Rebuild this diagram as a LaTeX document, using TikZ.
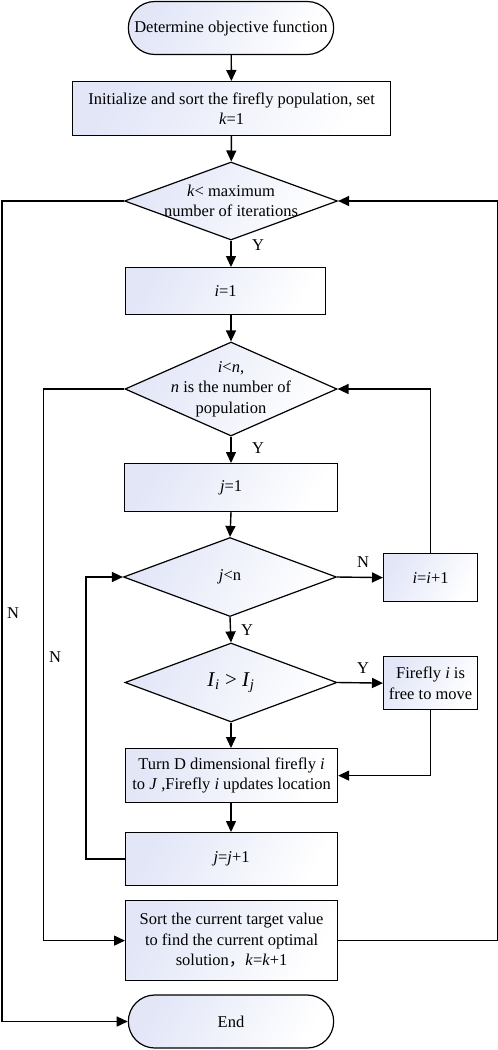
\documentclass[tikz,border=0pt]{standalone}
\usepackage{fontspec}
\setmainfont{Liberation Serif}
\newfontfamily\cjk{Noto Sans CJK SC}
\usepackage{amsmath}
\usepackage{tikz}
\usetikzlibrary{shapes.geometric,shapes.misc,arrows.meta}
\definecolor{lavande}{RGB}{226,230,247}
\tikzstyle{cadre} = [rectangle, draw=black, line width=1.2pt, top color=lavande, bottom color=white, shading angle=60, align=center, inner sep=2pt, font=\fontsize{16.5}{20.5}\selectfont]
\tikzstyle{losange} = [diamond, draw=black, line width=1.2pt, top color=lavande, bottom color=white, shading angle=60, inner sep=0pt]
\tikzstyle{arrondi} = [rounded rectangle, draw=black, line width=1.2pt, top color=lavande, bottom color=white, shading angle=60, minimum width=212pt, minimum height=53pt, font=\fontsize{16.5}{20.5}\selectfont]
\tikzstyle{texte} = [align=center, inner sep=0pt, font=\fontsize{16.5}{20.5}\selectfont]
\tikzstyle{etiquette} = [inner sep=0pt, font=\fontsize{16.5}{20.5}\selectfont]
\tikzstyle{fleche} = [-{Triangle[length=11pt,width=10pt]}, line width=1.4pt]

\begin{document}
\begin{tikzpicture}[x=1pt, y=-1pt]
                \useasboundingbox (0,0) rectangle (498,1050);

                \node [arrondi] (debut) at (231,28) {Determine objective function};
                \node [cadre, anchor=north west, minimum width=318pt, minimum height=54pt] (init) at (72,81) {Initialize and sort the firefly population, set\\ \textit{k}=1};
                \node [losange, minimum width=213pt, minimum height=78pt, label={[texte]center:{\textit{k}< maximum\\number of iterations}}] (iter) at (231,201) {};
                \node [cadre, anchor=north west, minimum width=200pt, minimum height=47pt] (ieg) at (125,267) {\textit{i}=1};
                \node [losange, minimum width=212pt, minimum height=94pt, label={[texte]center:{\textit{i}<\textit{n},\\ \textit{n} is the number of\\population}}] (inf) at (231,389) {};
                \node [cadre, anchor=north west, minimum width=213pt, minimum height=48pt] (jeg) at (124,463) {\textit{j}=1};
                \node [losange, minimum width=213pt, minimum height=79pt, label={[texte]center:{\textit{j}<n}}] (jinf) at (230,577) {};
                \node [cadre, anchor=north west, minimum width=94pt, minimum height=48pt] (iplus) at (383,553) {\textit{i}=\textit{i}+1};
                \node [losange, minimum width=212pt, minimum height=79pt, label={[texte]center:{\fontsize{21}{24}\selectfont\textit{I}$_{\textit{i}}$ > \textit{I}$_{\textit{j}}$}}] (compare) at (231,682.5) {};
                \node [cadre, anchor=north west, minimum width=94pt, minimum height=53pt] (libre) at (383,656) {Firefly \textit{i} is\\free to move};
                \node [cadre, anchor=north west, minimum width=212pt, minimum height=54pt] (maj) at (125,748) {Turn D dimensional firefly \textit{i}\\to \textit{J} ,Firefly \textit{i} updates location};
                \node [cadre, anchor=north west, minimum width=212pt, minimum height=53pt] (jplus) at (125,832) {\textit{j}=\textit{j}+1};
                \node [cadre, anchor=north west, minimum width=212pt, minimum height=80pt] (tri) at (125,900) {Sort the current target value\\to find the current optimal\\solution{\cjk ，}\textit{k}=\textit{k}+1};
                \node [arrondi] (fin) at (231,1021.5) {End};

                \node [etiquette] (oui1) at (258,245) {Y};
                \node [etiquette] (oui2) at (258,448) {Y};
                \node [etiquette] (oui3) at (247,630) {Y};
                \node [etiquette] (oui4) at (363,668) {Y};
                \node [etiquette] (non1) at (363,562) {N};
                \node [etiquette] (non2) at (13,613) {N};
                \node [etiquette] (non3) at (55,657) {N};

                \draw[fleche] (debut) -- (init);
                \draw[fleche] (init) -- (iter);
                \draw[fleche] (iter.south) -- (iter.south |- ieg.north);
                \draw[fleche] (iter.south |- ieg.south) -- (inf.north);
                \draw[fleche] (inf.south) -- (inf.south |- jeg.north);
                \draw[fleche] (inf.south |- jeg.south) -- (jinf.north);
                \draw[fleche] (jinf.south) -- (compare.north);
                \draw[fleche] (compare.south) -- (compare.south |- maj.north);
                \draw[fleche] (compare.south |- maj.south) -- (compare.south |- jplus.north);
                \draw[fleche] (jinf.east) -- (iplus.west);
                \draw[fleche] (iplus.north) |- (inf.east);
                \draw[fleche] (compare.east) -- (libre.west);
                \draw[fleche] (libre.south) |- (maj.east);
                \draw[fleche] (jplus.west) -- ++(-39,0) |- (jinf.west);
                \draw[fleche] (inf.west) -- ++(-81,0) |- (tri.west);
                \draw[fleche] (iter.west) -- ++(-122,0) |- (fin.west);
                \draw[fleche] (tri.east) -- ++(159,0) |- (iter.east);
            \end{tikzpicture}
\end{document}
